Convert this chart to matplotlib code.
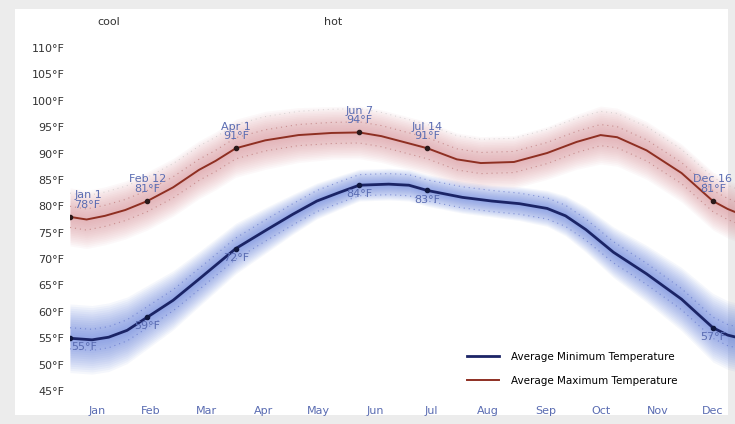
import matplotlib.pyplot as plt
from matplotlib.patches import Rectangle

# day-of-year knots
MAX_DAYS = [1, 10, 20, 31, 43, 57, 71, 80, 91, 107, 125, 143, 158, 170, 182, 195,
            211, 224, 242, 260, 276, 289, 298, 314, 333, 350, 358, 365]
MAX_TEMP = [78.0, 77.5, 78.2, 79.3, 81.0, 83.6, 86.9, 88.6, 91.0, 92.5, 93.5, 93.9,
            94.0, 93.3, 92.2, 91.0, 88.9, 88.2, 88.4, 90.1, 92.2, 93.5, 93.1, 90.6,
            86.3, 81.0, 79.5, 78.5]
MAX_SPREAD = [5.5, 5.5, 5.5, 5.5, 5.5, 5.5, 5.5, 5.5, 5.5, 5.5, 5.2, 5.0, 5.0, 5.0,
              5.0, 5.0, 5.0, 5.0, 5.0, 5.0, 5.2, 5.5, 5.5, 5.5, 5.5, 5.5, 5.5, 5.5]

MIN_DAYS = [1, 13, 22, 32, 43, 57, 71, 91, 108, 122, 135, 147, 158, 174, 185, 195,
            214, 230, 245, 260, 270, 281, 296, 314, 333, 350, 358, 365]
MIN_TEMP = [55.0, 54.7, 55.2, 56.5, 59.0, 62.2, 66.2, 72.0, 75.6, 78.5, 81.0, 82.6,
            84.0, 84.2, 84.0, 83.0, 81.7, 81.0, 80.5, 79.6, 78.2, 75.6, 71.3, 67.2,
            62.4, 57.0, 55.6, 55.0]
MIN_SPREAD = [6.5, 6.5, 6.5, 6.3, 6.0, 5.6, 5.2, 4.8, 4.3, 3.8, 3.4, 3.2, 3.0, 3.0,
              3.0, 3.0, 3.0, 3.0, 3.2, 3.4, 3.8, 4.3, 4.8, 5.4, 6.0, 6.5, 6.5, 6.5]

# labelled days: Jan 1, Feb 12, Apr 1, Jun 7, Jul 14, Dec 16
LABEL_DAYS = [1, 43, 91, 158, 195, 350]
LABEL_DATES = ["Jan 1", "Feb 12", "Apr 1", "Jun 7", "Jul 14", "Dec 16"]
LABEL_MAX = [78, 81, 91, 94, 91, 81]
LABEL_MIN = [55, 59, 72, 84, 83, 57]

MONTHS = ["Jan", "Feb", "Mar", "Apr", "May", "Jun",
          "Jul", "Aug", "Sep", "Oct", "Nov", "Dec"]
MONTH_MID = [16, 45, 75, 106, 136, 167, 197, 228, 259, 289, 320, 350]
Y_TICKS = [45, 50, 55, 60, 65, 70, 75, 80, 85, 90, 95, 100, 105, 110]

NOTE_COLOR = "#5a6cb2"
RED = "#8e2f22"
NAVY = "#1b2466"

# many thin nested fills give the bands a smooth falloff
N_LAYERS = 16


def soft_band(ax, days, mid, spread, color, alpha):
    for k in range(N_LAYERS):
        frac = 1.0 - k / N_LAYERS
        lo = [m - s * frac for m, s in zip(mid, spread)]
        hi = [m + s * frac for m, s in zip(mid, spread)]
        ax.fill_between(days, lo, hi, color=color, alpha=alpha, linewidth=0)


def main() -> None:
    fig = plt.figure(figsize=(7.35, 4.24), dpi=100, facecolor="#ececec")
    fig.patches.append(Rectangle((15 / 735, 9 / 424), 713 / 735, 406 / 424,
                                 transform=fig.transFigure, facecolor="white",
                                 edgecolor="none", zorder=-10))
    ax = fig.add_axes([70 / 735, 24 / 424, 665 / 735, 390 / 424])
    ax.set_facecolor("none")

    soft_band(ax, MAX_DAYS, MAX_TEMP, MAX_SPREAD, "#d98c94", 0.055)
    soft_band(ax, MIN_DAYS, MIN_TEMP, MIN_SPREAD, "#5a78dc", 0.06)

    # dotted yearly traces inside the bands
    for off in (2.0, -2.0):
        ax.plot(MAX_DAYS, [t + off for t in MAX_TEMP], color="#b46868", lw=0.8,
                ls=(0, (1, 3.5)), alpha=0.6)
        ax.plot(MIN_DAYS, [t + off for t in MIN_TEMP], color="#5468c4", lw=0.8,
                ls=(0, (1, 3.5)), alpha=0.6)
    ax.plot(MAX_DAYS, [t + 4.5 for t in MAX_TEMP], color="#b0b0b0", lw=0.7,
            ls=(0, (1, 4)), alpha=0.5)

    ax.plot(MIN_DAYS, MIN_TEMP, color=NAVY, lw=2.0, label="Average Minimum Temperature")
    ax.plot(MAX_DAYS, MAX_TEMP, color=RED, lw=1.4, label="Average Maximum Temperature")

    ax.scatter(LABEL_DAYS, LABEL_MAX, s=9, color="#2a1a1a", zorder=5)
    ax.scatter(LABEL_DAYS, LABEL_MIN, s=9, color="#101840", zorder=5)

    for i, (day, date, tmax, tmin) in enumerate(zip(LABEL_DAYS, LABEL_DATES, LABEL_MAX, LABEL_MIN)):
        ha = "left" if i == 0 else "center"
        ax.annotate(f"{date}\n{tmax}°F", (day, tmax), xytext=(3 if i == 0 else 0, 5),
                    textcoords="offset points", ha=ha, va="bottom", fontsize=8,
                    color=NOTE_COLOR, linespacing=0.95)
        ax.annotate(f"{tmin}°F", (day, tmin), xytext=(1 if i == 0 else 0, -3),
                    textcoords="offset points", ha=ha, va="top", fontsize=8,
                    color=NOTE_COLOR)

    ax.text(22, 114.9, "cool", ha="center", va="center", fontsize=8, color="#333333")
    ax.text(144, 114.9, "hot", ha="center", va="center", fontsize=8, color="#333333")

    ax.set_xlim(1, 362)
    ax.set_ylim(43.3, 117.2)
    ax.set_yticks(Y_TICKS)
    ax.set_yticklabels([f"{t}°F" for t in Y_TICKS], fontsize=8, color="#333333")
    ax.set_xticks(MONTH_MID)
    ax.set_xticklabels(MONTHS, fontsize=8, color=NOTE_COLOR)
    ax.tick_params(length=0, pad=4)
    for spine in ax.spines.values():
        spine.set_visible(False)

    handles, labels = ax.get_legend_handles_labels()
    ax.legend(handles, labels, loc="lower right", bbox_to_anchor=(0.928, 0.012),
              frameon=False, fontsize=7.5, handlelength=3.0, labelspacing=1.35,
              handletextpad=1.2)

    fig.savefig("out.png", dpi=100, facecolor=fig.get_facecolor())


if __name__ == "__main__":
    main()
